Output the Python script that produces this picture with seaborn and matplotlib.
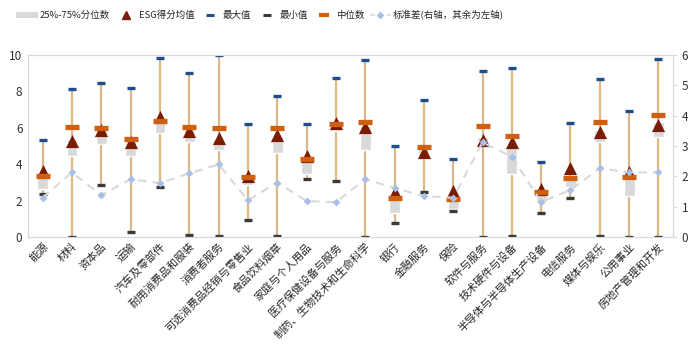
import numpy as np
import pandas as pd
import matplotlib
matplotlib.use("Agg")
import matplotlib.pyplot as plt
import seaborn as sns
from matplotlib.patches import Patch
from matplotlib.lines import Line2D

categories = ["能源", "材料", "资本品", "运输", "汽车及零部件", "耐用消费品和服装", "消费者服务",
              "可选消费品经销与零售业", "食品饮料烟草", "家庭与个人用品", "医疗保健设备与服务",
              "制药、生物技术和生命科学", "银行", "金融服务", "保险", "软件与服务", "技术硬件与设备",
              "半导体与半导体生产设备", "电信服务", "媒体与娱乐", "公用事业", "房地产管理和开发"]
max_vals = [5.33, 8.11, 8.44, 8.19, 9.82, 9.01, 9.98, 6.24, 7.75, 6.21, 8.74, 9.74, 4.98, 7.55, 4.29,
            9.14, 9.31, 4.12, 6.28, 8.66, 6.92, 9.78]
min_vals = [2.36, 0.02, 2.84, 0.27, 2.75, 0.11, 0.07, 0.93, 0.07, 3.20, 3.09, 0.00, 0.79, 2.49, 1.43,
            0.00, 0.07, 1.34, 2.16, 0.07, 0.02, 0.02]
median_vals = [3.37, 6.04, 5.97, 5.40, 6.37, 6.06, 5.97, 3.31, 6.01, 4.27, 6.23, 6.32, 2.17, 4.93, 2.07,
               6.08, 5.55, 2.49, 3.22, 6.34, 3.30, 6.72]
mean_vals = [3.63, 5.27, 5.90, 5.24, 6.61, 5.82, 5.42, 3.37, 5.60, 4.45, 6.25, 6.06, 2.49, 4.69, 2.53,
             5.33, 5.24, 2.62, 3.77, 5.79, 3.59, 6.15]
q1_vals = [2.65, 4.47, 5.11, 4.45, 5.70, 5.24, 4.78, 2.86, 4.60, 3.44, 5.84, 4.78, 1.34, 4.32, 1.52,
           5.20, 3.46, 1.94, 2.77, 5.24, 2.27, 5.51]
q3_vals = [3.40, 5.40, 5.90, 5.30, 6.40, 5.95, 5.40, 3.30, 5.50, 4.20, 6.20, 6.10, 2.10, 4.85, 2.05,
           5.50, 5.10, 2.45, 3.25, 5.90, 3.40, 6.30]
std_vals = [1.30, 2.13, 1.38, 1.91, 1.78, 2.10, 2.40, 1.21, 1.80, 1.19, 1.15, 1.91, 1.62, 1.35, 1.30,
            3.12, 2.65, 1.16, 1.55, 2.27, 2.13, 2.14]

df = pd.DataFrame({"cat": categories, "max": max_vals, "min": min_vals, "median": median_vals,
                   "mean": mean_vals, "q1": q1_vals, "q3": q3_vals, "std": std_vals})
df["x"] = np.arange(len(df))

sns.set_theme(style="white")
plt.rcParams["font.family"] = ["Noto Sans CJK SC", "DejaVu Sans"]

C_BOX = "#d9d9d9"
C_WHISK = "#dcb887"
C_MAX = "#1f4e8c"
C_MIN = "#3a3a3a"
C_MED = "#d0600f"
C_MEAN = "#7a1c04"
C_STD_LINE = "#d9d9d9"
C_STD_PT = "#a9bfe6"

fig = plt.figure(figsize=(6.99, 3.55), dpi=100)
ax = fig.add_axes([0.040, 0.332, 0.923, 0.513])
ax2 = ax.twinx()

# whiskers
ax.vlines(df["x"], df["min"], df["max"], color=C_WHISK, lw=1.6, zorder=2)
# boxes
ax.bar(df["x"], df["q3"] - df["q1"], bottom=df["q1"], width=0.37, color=C_BOX, zorder=3)
sns.scatterplot(data=df, x="x", y="max", marker="_", s=38, linewidth=2.4, color=C_MAX, ax=ax, zorder=4)
sns.scatterplot(data=df, x="x", y="min", marker="_", s=38, linewidth=2.4, color=C_MIN, ax=ax, zorder=4)
sns.scatterplot(data=df, x="x", y="mean", marker="^", s=90, linewidth=0, color=C_MEAN, ax=ax, zorder=5)
sns.scatterplot(data=df, x="x", y="median", marker="_", s=110, linewidth=3.8, color=C_MED, ax=ax, zorder=6)

ax.set_zorder(1)
ax2.set_zorder(2)
ax.patch.set_visible(False)

sns.lineplot(data=df, x="x", y="std", ax=ax2, color=C_STD_LINE, lw=1.5, zorder=1)
ax2.lines[-1].set_linestyle((0, (4, 3)))
sns.scatterplot(data=df, x="x", y="std", marker="D", s=16, linewidth=0, color=C_STD_PT, ax=ax2, zorder=7)

ax.set_xlim(-0.5, len(df) - 0.5)
ax.set_ylim(0, 10)
ax2.set_ylim(0, 6)
ax.set_yticks([0, 2, 4, 6, 8, 10])
ax2.set_yticks([0, 1, 2, 3, 4, 5, 6])
ax.set_xticks(df["x"])
ax.set_xticklabels(categories, rotation=45, ha="right", rotation_mode="anchor", fontsize=7.8)
ax.tick_params(axis="x", length=0, pad=3)
ax.tick_params(axis="y", length=0, labelsize=8.5, pad=4, colors="#333333")
ax2.tick_params(axis="y", length=3, width=0.8, color="#d9d9d9", labelsize=8.5, pad=3, labelcolor="#333333")
ax.set_xlabel("")
ax.set_ylabel("")
ax2.set_xlabel("")
ax2.set_ylabel("")
ax.grid(False)
ax2.grid(False)
for a in (ax, ax2):
    for s in a.spines.values():
        s.set_color("#d9d9d9")
        s.set_linewidth(0.8)

handles = [
    Patch(facecolor=C_BOX, edgecolor="none"),
    Line2D([], [], ls="none", marker="^", color=C_MEAN, markersize=5.5),
    Line2D([], [], ls="none", marker="_", color=C_MAX, markersize=5.5, markeredgewidth=2.2),
    Line2D([], [], ls="none", marker="_", color=C_MIN, markersize=5.5, markeredgewidth=2.2),
    Line2D([], [], ls="none", marker="_", color=C_MED, markersize=6.5, markeredgewidth=3),
    Line2D([], [], ls=(0, (3, 2)), lw=1.2, color=C_STD_LINE, marker="D", markersize=3,
           markerfacecolor=C_STD_PT, markeredgecolor=C_STD_PT),
]
labels = ["25%-75%分位数", "ESG得分均值", "最大值", "最小值", "中位数", "标准差(右轴，其余为左轴)"]
fig.legend(handles, labels, loc="upper left", bbox_to_anchor=(0.018, 0.982), ncol=6, frameon=False,
           fontsize=6.8, handlelength=2.3, handletextpad=0.2, columnspacing=0.5, borderaxespad=0)

fig.savefig("out.png", dpi=100)
